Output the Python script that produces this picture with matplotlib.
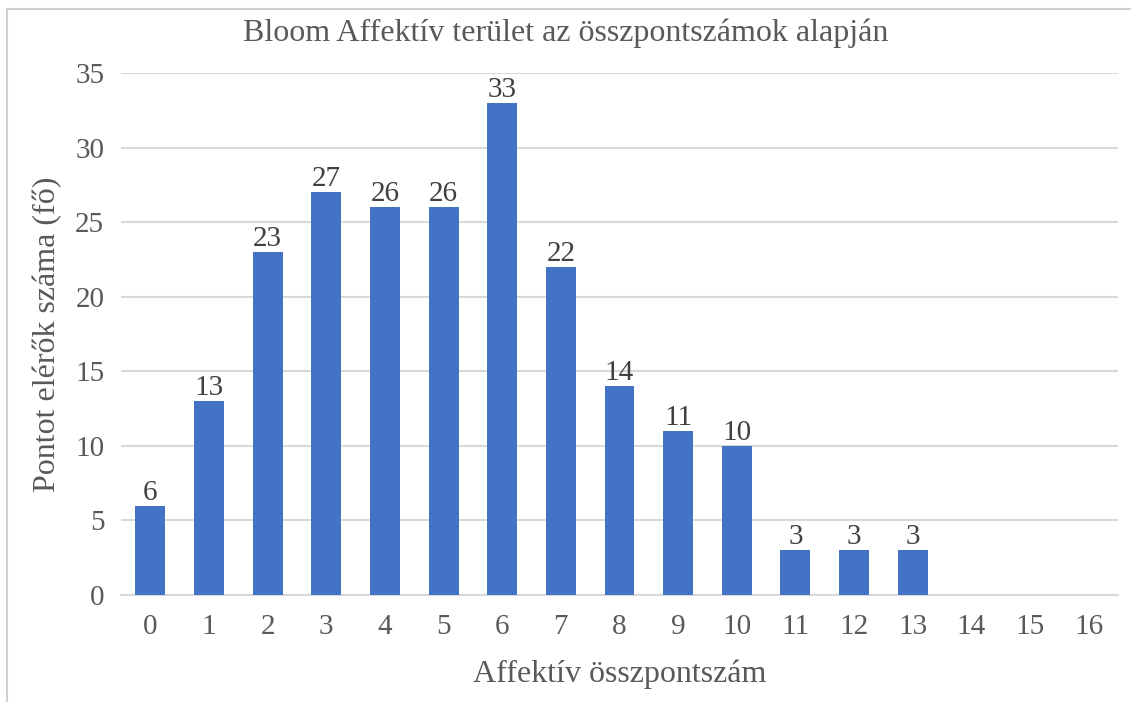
import matplotlib
matplotlib.use("Agg")
import matplotlib.pyplot as plt
from matplotlib.patches import Rectangle

# Data
scores = list(range(17))
counts = [6, 13, 23, 27, 26, 26, 33, 22, 14, 11, 10, 3, 3, 3, 0, 0, 0]
labels = [str(s) for s in scores]

plt.rcParams['font.family'] = ['Liberation Serif', 'DejaVu Serif']
text_color = '#595959'

fig = plt.figure(figsize=(11.31, 7.02), dpi=100)
ax = fig.add_axes([0.107, 0.1524, 0.8815, 0.7436])

bars = ax.bar(scores, counts, width=0.51, color='#4472C4', zorder=3)

# Value labels above the non-empty bars
for bar, c in zip(bars, counts):
    if c > 0:
        ax.annotate(str(c), xy=(bar.get_x() + bar.get_width() / 2, c),
                    xytext=(0, 0), textcoords='offset points',
                    ha='center', va='bottom', fontsize=21, color='#404040')

ax.set_xlim(-0.5, 16.5)
ax.set_ylim(0, 35)
ax.set_yticks(range(0, 36, 5))
ax.set_xticks(scores)
ax.set_xticklabels(labels)
ax.yaxis.grid(True, color='#D9D9D9', linewidth=1.5, zorder=0)
ax.tick_params(axis='both', length=0, labelsize=21, colors=text_color)
ax.tick_params(axis='x', pad=14)
ax.tick_params(axis='y', pad=12)
for side in ['top', 'right', 'left']:
    ax.spines[side].set_visible(False)
ax.spines['bottom'].set_color('#D9D9D9')
ax.spines['bottom'].set_linewidth(1.5)

ax.set_xlabel('Affektív összpontszám', fontsize=23, color=text_color, labelpad=14)
ax.set_ylabel('Pontot elérők száma (fő)', fontsize=23, color=text_color, labelpad=9)
fig.text(0.5, 0.953, 'Bloom Affektív terület az összpontszámok alapján',
         ha='center', va='center', fontsize=23, color=text_color)

# light chart frame (cut off at right and bottom like the source)
fig.patches.append(Rectangle((7 / 1131, -0.1), 1.2, 1.1 - 9 / 702,
                             transform=fig.transFigure, fill=False,
                             edgecolor='#D0D0D0', linewidth=1.5))

fig.savefig('out.png', dpi=100)
